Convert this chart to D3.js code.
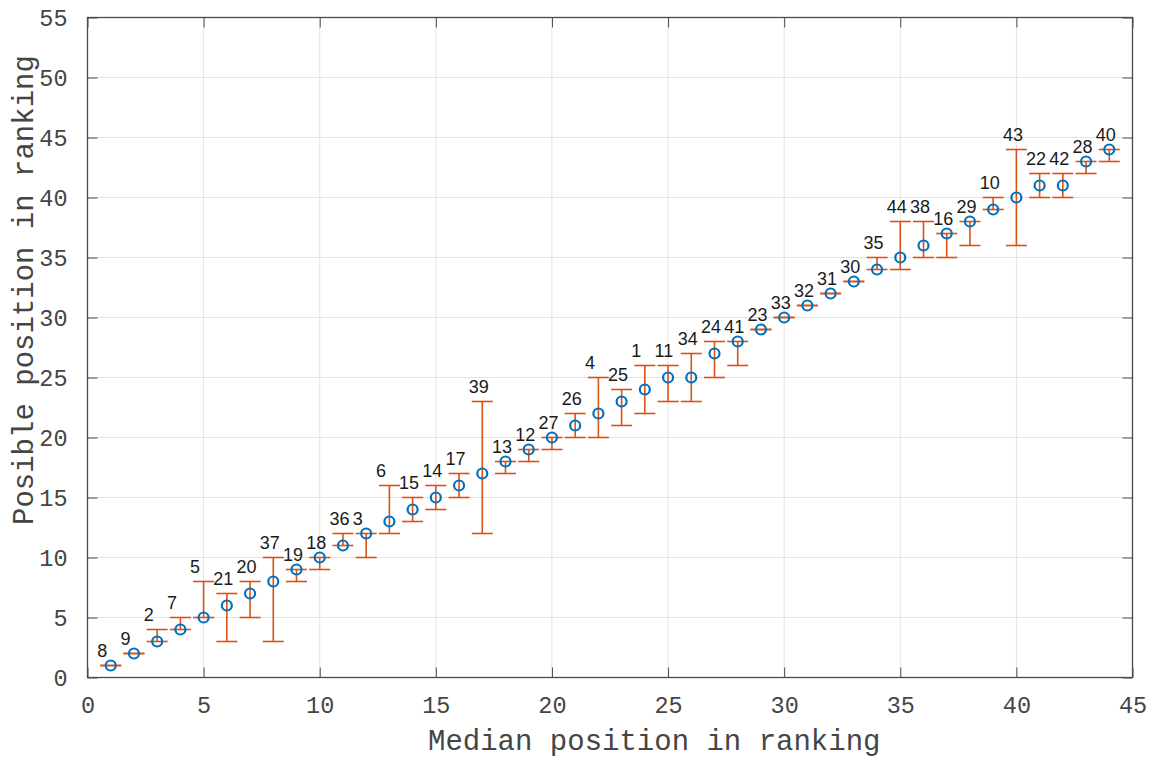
<!DOCTYPE html>
<html>
<head>
<meta charset="utf-8">
<script src="https://cdn.jsdelivr.net/npm/d3@7"></script>
<style>
  html, body { margin: 0; padding: 0; background: #fff; }
  svg { display: block; }
</style>
</head>
<body>
<svg id="chart" width="1152" height="758"></svg>
<script>
// Median position (x), median value (y), lower/upper bound, team label
const medianX = [1,2,3,4,5,6,7,8,9,10,11,12,13,14,15,16,17,18,19,20,21,22,23,24,25,26,27,28,29,30,31,32,33,34,35,36,37,38,39,40,41,42,43,44];
const medianY = [1,2,3,4,5,6,7,8,9,10,11,12,13,14,15,16,17,18,19,20,21,22,23,24,25,25,27,28,29,30,31,32,33,34,35,36,37,38,39,40,41,41,43,44];
const lowerY  = [1,2,3,4,5,3,5,3,8,9,11,10,12,13,14,15,12,17,18,19,20,20,21,22,23,23,25,26,29,30,31,32,33,34,34,35,35,36,39,36,40,40,42,43];
const upperY  = [1,2,4,5,8,7,8,10,9,10,12,12,16,15,16,17,23,18,19,20,22,25,24,26,26,27,28,28,29,30,31,32,33,35,38,38,37,38,40,44,42,42,43,44];
const labels  = ["8","9","2","7","5","21","20","37","19","18","36","3","6","15","14","17","39","13","12","27","26","4","25","1","11","34","24","41","23","33","32","31","30","35","44","38","16","29","10","43","22","42","28","40"];
const xTicks = [0,5,10,15,20,25,30,35,40,45];
const yTicks = [0,5,10,15,20,25,30,35,40,45,50,55];
const xLabel = "Median position in ranking";
const yLabel = "Posible position in ranking";

const data = medianX.map((x, i) => ({x, y: medianY[i], lo: lowerY[i], hi: upperY[i], label: labels[i]}));

const svg = d3.select("#chart");
const L = 87.5, R = 1132.5, T = 17.5, B = 677.5;
const x = d3.scaleLinear().domain([0, 45]).range([L, R]);
const y = d3.scaleLinear().domain([0, 55]).range([B, T]);

const axisColor = "#4a4a4a";
const textColor = "#454545";
const monoFont = "'Liberation Mono', 'Courier New', monospace";

// grid
const grid = svg.append("g");
grid.selectAll("line.gx").data(xTicks).join("line")
  .attr("x1", d => x(d)).attr("x2", d => x(d)).attr("y1", T).attr("y2", B)
  .attr("stroke", "#e3e3e3").attr("stroke-width", 1);
grid.selectAll("line.gy").data(yTicks).join("line")
  .attr("y1", d => y(d)).attr("y2", d => y(d)).attr("x1", L).attr("x2", R)
  .attr("stroke", "#e3e3e3").attr("stroke-width", 1);

// axes with inward ticks
const tl = 10;
const bottomAxis = d3.axisBottom(x).tickValues(xTicks).tickSizeInner(-tl).tickSizeOuter(0).tickPadding(tl + 11);
const topAxis = d3.axisTop(x).tickValues(xTicks).tickSizeInner(-tl).tickSizeOuter(0).tickFormat("");
const leftAxis = d3.axisLeft(y).tickValues(yTicks).tickSizeInner(-tl).tickSizeOuter(0).tickPadding(tl + 10);
const rightAxis = d3.axisRight(y).tickValues(yTicks).tickSizeInner(-tl).tickSizeOuter(0).tickFormat("");

function styleAxis(g) {
  g.select(".domain").remove();
  g.selectAll(".tick line").attr("stroke", axisColor).attr("stroke-width", 1);
  g.selectAll(".tick text").attr("fill", textColor).style("font-family", monoFont).style("font-size", "23.5px");
}
svg.append("g").attr("transform", `translate(0,${B})`).call(bottomAxis).call(styleAxis)
  .selectAll(".tick text").attr("dy", "0").attr("y", 35.5);
svg.append("g").attr("transform", `translate(0,${T})`).call(topAxis).call(styleAxis);
svg.append("g").attr("transform", `translate(${L},0)`).call(leftAxis).call(styleAxis)
  .selectAll(".tick text").attr("dy", "0.34em");
svg.append("g").attr("transform", `translate(${R},0)`).call(rightAxis).call(styleAxis);

// box
svg.append("rect").attr("x", L).attr("y", T).attr("width", R - L).attr("height", B - T)
  .attr("fill", "none").attr("stroke", axisColor).attr("stroke-width", 1.3);

// error bars
const eb = svg.append("g").attr("stroke", "#D95319").attr("stroke-width", 1.6).attr("fill", "none");
const cap = 10.5;
eb.selectAll("line.v").data(data).join("line")
  .attr("x1", d => x(d.x)).attr("x2", d => x(d.x))
  .attr("y1", d => y(d.lo)).attr("y2", d => y(d.hi));
eb.selectAll("line.lo").data(data).join("line")
  .attr("x1", d => x(d.x) - cap).attr("x2", d => x(d.x) + cap)
  .attr("y1", d => y(d.lo)).attr("y2", d => y(d.lo));
eb.selectAll("line.hi").data(data).join("line")
  .attr("x1", d => x(d.x) - cap).attr("x2", d => x(d.x) + cap)
  .attr("y1", d => y(d.hi)).attr("y2", d => y(d.hi));

// markers
svg.append("g").selectAll("circle").data(data).join("circle")
  .attr("cx", d => x(d.x)).attr("cy", d => y(d.y)).attr("r", 5)
  .attr("fill", "none").attr("stroke", "#0072BD").attr("stroke-width", 2.2);

// labels
svg.append("g").selectAll("text").data(data).join("text")
  .attr("x", d => x(d.x) - 13.5).attr("y", d => y(d.hi) - 9)
  .attr("fill", "#1a1a1a")
  .style("font-family", "'Liberation Sans', Arial, sans-serif").style("font-size", "18px")
  .text(d => d.label);

// axis labels
svg.append("text").attr("x", 428).attr("y", 750)
  .attr("fill", textColor).style("font-family", monoFont).style("font-size", "29px")
  .text(xLabel);
svg.append("text").attr("transform", "translate(33,525) rotate(-90)")
  .attr("fill", textColor).style("font-family", monoFont).style("font-size", "29px")
  .text(yLabel);
</script>
</body>
</html>
